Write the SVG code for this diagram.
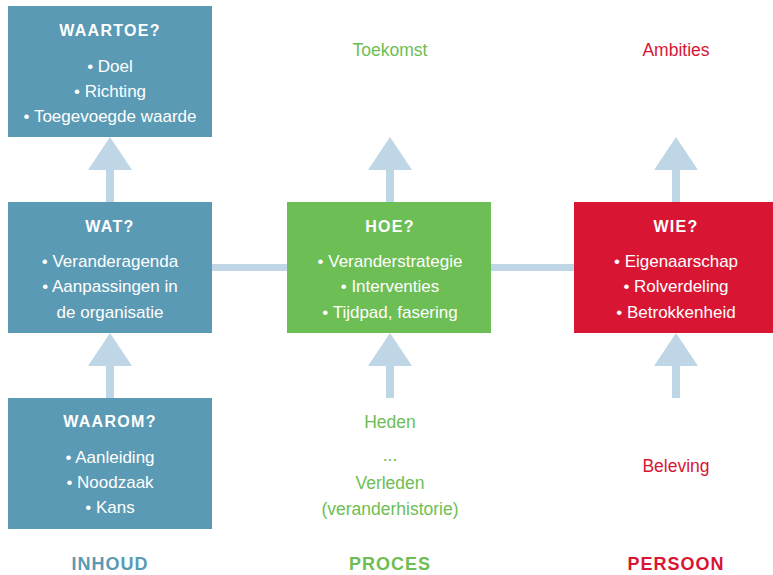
<svg xmlns="http://www.w3.org/2000/svg" width="773" height="575" viewBox="0 0 773 575">
<style>
.blue{fill:#5b9ab4}.green{fill:#6dbe54}.red{fill:#d81634}
.conn{fill:#bfd6e6}
text{font-family:"Liberation Sans Narrow","Liberation Sans",Arial,sans-serif;text-anchor:middle}
.t{font-weight:bold;font-size:16px;letter-spacing:1.3px;fill:#fff}
.b{font-size:17px;fill:#fff}
.g{font-size:17.5px;fill:#6dbe54}
.r{font-size:17.5px;fill:#d81634}
.lab{font-weight:bold;font-size:18px;letter-spacing:1px}
</style>
<g id="connectors">
<rect class="conn" x="212" y="264" width="75" height="7"/>
<rect class="conn" x="491" y="264" width="83" height="7"/>
<polygon class="conn" points="110,137 132,170 88,170"/><rect class="conn" x="106" y="169" width="8" height="33"/>
<polygon class="conn" points="390,137 412,170 368,170"/><rect class="conn" x="386" y="169" width="8" height="33"/>
<polygon class="conn" points="676,137 698,170 654,170"/><rect class="conn" x="672" y="169" width="8" height="33"/>
<polygon class="conn" points="110,333 132,366 88,366"/><rect class="conn" x="106" y="365" width="8" height="33"/>
<polygon class="conn" points="390,333 412,366 368,366"/><rect class="conn" x="386" y="365" width="8" height="33"/>
<polygon class="conn" points="676,333 698,366 654,366"/><rect class="conn" x="672" y="365" width="8" height="33"/>
</g>
<g id="waartoe">
<rect class="blue" x="8" y="6" width="204" height="131"/>
<text class="t" x="110" y="36">WAARTOE?</text>
<text class="b" x="110" y="72">• Doel</text>
<text class="b" x="110" y="97">• Richting</text>
<text class="b" x="110" y="122">• Toegevoegde waarde</text>
</g>
<g id="wat">
<rect class="blue" x="8" y="202" width="204" height="131"/>
<text class="t" x="110" y="232">WAT?</text>
<text class="b" x="110" y="267">• Veranderagenda</text>
<text class="b" x="110" y="292">• Aanpassingen in</text>
<text class="b" x="110" y="318">de organisatie</text>
</g>
<g id="waarom">
<rect class="blue" x="8" y="398" width="204" height="131"/>
<text class="t" x="110" y="427">WAAROM?</text>
<text class="b" x="110" y="463">• Aanleiding</text>
<text class="b" x="110" y="488">• Noodzaak</text>
<text class="b" x="110" y="513">• Kans</text>
</g>
<g id="hoe">
<rect class="green" x="287" y="202" width="204" height="131"/>
<text class="t" x="390" y="232">HOE?</text>
<text class="b" x="390" y="267">• Veranderstrategie</text>
<text class="b" x="390" y="292">• Interventies</text>
<text class="b" x="390" y="318">• Tijdpad, fasering</text>
</g>
<g id="wie">
<rect class="red" x="574" y="202" width="204" height="131"/>
<text class="t" x="676" y="232">WIE?</text>
<text class="b" x="676" y="267">• Eigenaarschap</text>
<text class="b" x="676" y="292">• Rolverdeling</text>
<text class="b" x="676" y="318">• Betrokkenheid</text>
</g>
<g id="toekomst"><text class="g" x="390" y="56">Toekomst</text></g>
<g id="ambities"><text class="r" x="676" y="56">Ambities</text></g>
<g id="heden">
<text class="g" x="390" y="428">Heden</text>
<text class="g" x="390" y="461">...</text>
<text class="g" x="390" y="489">Verleden</text>
<text class="g" x="390" y="515">(veranderhistorie)</text>
</g>
<g id="beleving"><text class="r" x="676" y="472">Beleving</text></g>
<g id="labels">
<text class="lab" x="110" y="570" fill="#5b9ab4">INHOUD</text>
<text class="lab" x="390" y="570" fill="#6dbe54">PROCES</text>
<text class="lab" x="676" y="570" fill="#d81634">PERSOON</text>
</g>
</svg>
